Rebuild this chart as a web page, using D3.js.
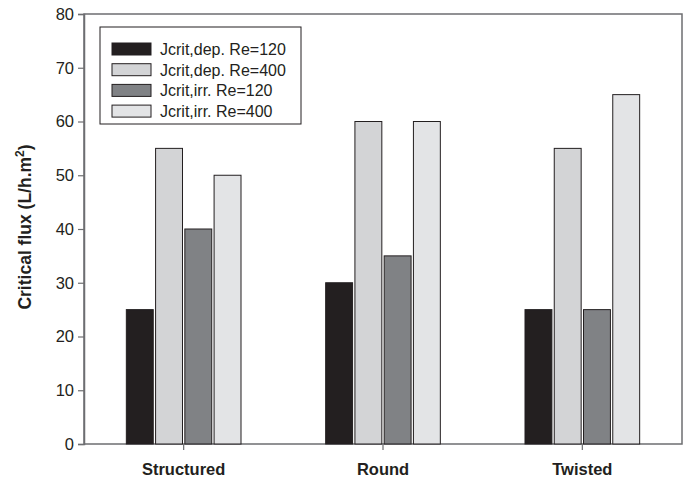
<!DOCTYPE html>
<html><head><meta charset="utf-8">
<script src="https://cdn.jsdelivr.net/npm/d3@7"></script>
<style>body{margin:0;background:#fff}svg{display:block;font-family:"Liberation Sans",Arial,sans-serif}</style>
</head><body><svg id="c" width="688" height="479"></svg>
<script>
const categories = ["Structured", "Round", "Twisted"];
const seriesNames = ["Jcrit,dep. Re=120", "Jcrit,dep. Re=400", "Jcrit,irr. Re=120", "Jcrit,irr. Re=400"];
const depRe120 = [25, 30, 25];
const depRe400 = [55, 60, 55];
const irrRe120 = [40, 35, 25];
const irrRe400 = [50, 60, 65];
const yTicks = [0, 10, 20, 30, 40, 50, 60, 70, 80];
const colors = ["#231f20", "#d3d4d6", "#808285", "#e3e4e6"];

const series = [depRe120, depRe400, irrRe120, irrRe400];
const svg = d3.select("#c");
const L = 84, R = 682, T = 14, B = 444;
const x = d3.scaleBand().domain(categories).range([L, R]).paddingInner(0.413).paddingOuter(0.2065);
const xs = d3.scaleBand().domain(d3.range(4)).range([0, x.bandwidth()]).paddingInner(0.08).paddingOuter(0.04);
const y = d3.scaleLinear().domain([0, 80]).range([B, T]);

// frame
svg.append("rect").attr("x", L).attr("y", T).attr("width", R - L).attr("height", B - T)
  .attr("fill", "none").attr("stroke", "#6d6e71").attr("stroke-width", 1.5);

// bars
const g = svg.append("g");
categories.forEach((c, ci) => {
  series.forEach((s, si) => {
    g.append("rect")
      .attr("x", x(c) + xs(si))
      .attr("y", y(s[ci]))
      .attr("width", xs.bandwidth())
      .attr("height", y(0) - y(s[ci]))
      .attr("fill", colors[si])
      .attr("stroke", "#231f20").attr("stroke-width", 1);
  });
});

// y axis
const ya = svg.append("g").attr("transform", `translate(${L},0)`)
  .call(d3.axisLeft(y).tickValues(yTicks).tickSize(6).tickPadding(4));
ya.select(".domain").attr("stroke", "#6d6e71").attr("stroke-width", 1.5);
ya.selectAll(".tick line").attr("stroke", "#6d6e71").attr("stroke-width", 1.2);
ya.selectAll("text").attr("font-size", 16.5).attr("fill", "#231f20").attr("font-family", '"Liberation Sans",Arial,sans-serif');

// x axis
const xa = svg.append("g").attr("transform", `translate(0,${B})`)
  .call(d3.axisBottom(x).tickSize(6).tickPadding(13));
xa.select(".domain").remove();
xa.selectAll(".tick line").attr("stroke", "#6d6e71").attr("stroke-width", 1.2);
xa.selectAll("text").attr("font-size", 16.5).attr("font-weight", "bold").attr("fill", "#231f20").attr("font-family", '"Liberation Sans",Arial,sans-serif');

// y title
const yt = svg.append("text").attr("transform", `translate(31,${(T + B) / 2 - 2}) rotate(-90)`)
  .attr("text-anchor", "middle").attr("font-size", 17.5).attr("font-weight", "bold").attr("fill", "#231f20");
yt.append("tspan").text("Critical flux (L/h.m");
yt.append("tspan").attr("font-size", 12).attr("dy", -7).text("2");
yt.append("tspan").attr("dy", 7).text(")");

// legend
const lg = svg.append("g");
lg.append("rect").attr("x", 100).attr("y", 27).attr("width", 201).attr("height", 97)
  .attr("fill", "#fff").attr("stroke", "#231f20").attr("stroke-width", 1);
seriesNames.forEach((n, i) => {
  const cy = 49 + i * 20.7;
  lg.append("rect").attr("x", 112).attr("y", cy - 6).attr("width", 39).attr("height", 12)
    .attr("fill", colors[i]).attr("stroke", "#231f20").attr("stroke-width", 1);
  lg.append("text").attr("x", 160).attr("y", cy + 6).attr("font-size", 16).attr("fill", "#231f20").text(n);
});
</script></body></html>
